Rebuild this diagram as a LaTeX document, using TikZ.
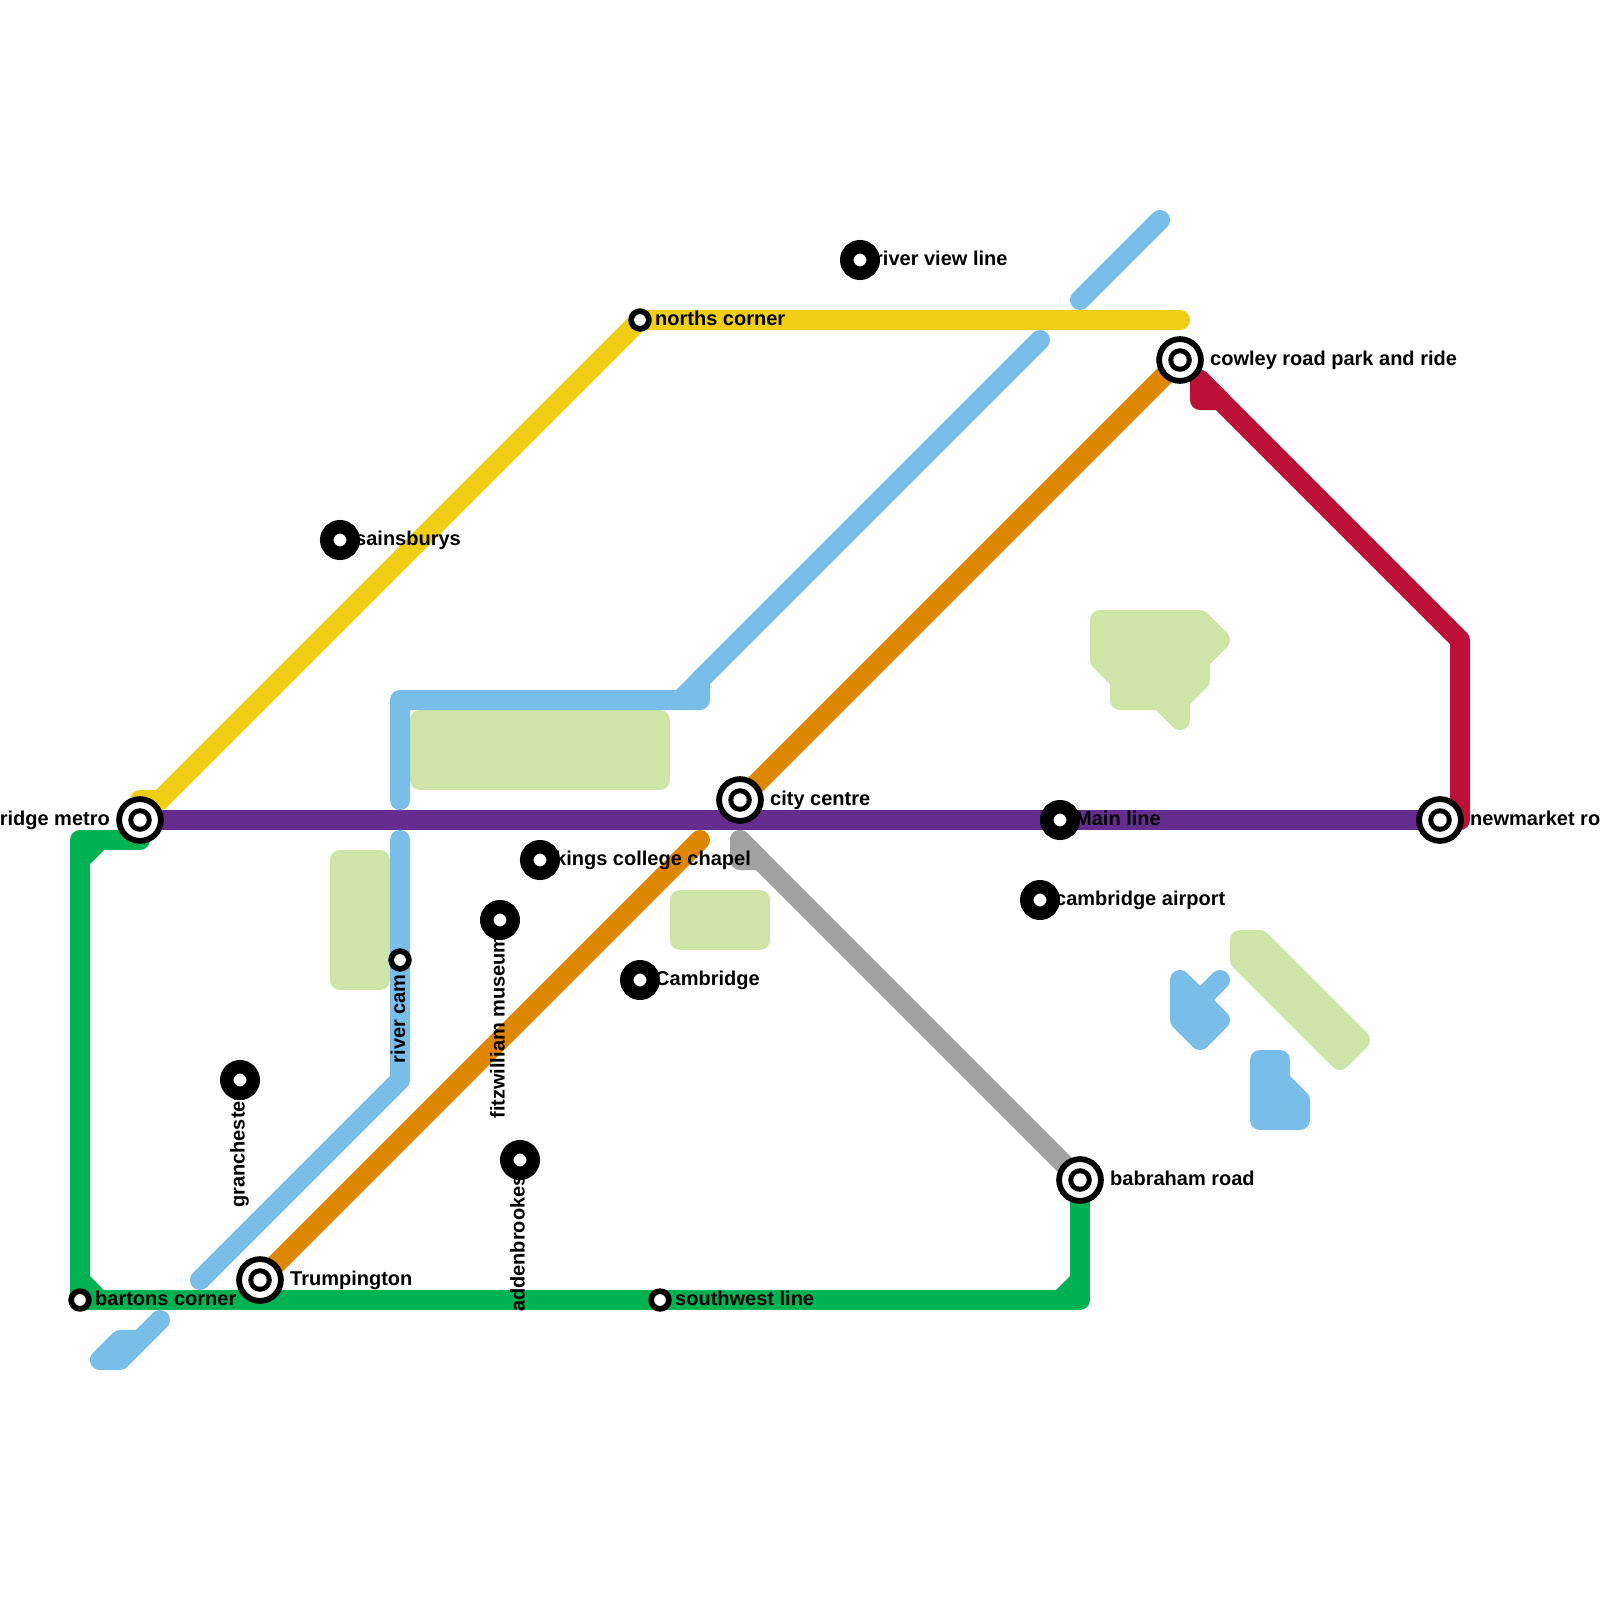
\documentclass[tikz,border=0pt]{standalone}
\usepackage{fontspec}
\setmainfont{Liberation Sans}
\usetikzlibrary{backgrounds}
\definecolor{lblue}{HTML}{79BDE9}
\definecolor{lgreen}{HTML}{00B251}
\definecolor{lyellow}{HTML}{F0CE15}
\definecolor{lpurple}{HTML}{662C90}
\definecolor{lorange}{HTML}{DF8600}
\definecolor{lred}{HTML}{BD1038}
\definecolor{lgrey}{HTML}{A2A2A2}
\definecolor{larea}{HTML}{CFE4A7}
\tikzset{
  metroline/.style={line width=20pt,line cap=round,line join=round},
  blob/.style={line width=20pt,line cap=round,line join=round,draw=#1,fill=#1},
  stabig/.style={circle,draw=black,fill=white,line width=5.8pt,minimum size=41.8pt,inner sep=0pt,
    path picture={\fill[black] (path picture bounding box.center) circle (11.8pt);
                  \fill[white] (path picture bounding box.center) circle (6.7pt);}},
  stadot/.style={circle,draw=black,fill=white,line width=13.5pt,minimum size=26.5pt,inner sep=0pt},
  stasmall/.style={circle,draw=black,fill=white,line width=5.7pt,minimum size=17.7pt,inner sep=0pt},
  lab/.style={inner sep=0pt,font=\bfseries\fontsize{20}{24}\selectfont,text=black},
  labr/.style={lab,anchor=base west},
  labl/.style={lab,anchor=base east},
  labv/.style={lab,anchor=base east,rotate=90},
  labw/.style={lab,anchor=base west,rotate=90},
}
\begin{document}
\begin{tikzpicture}[x=1pt,y=-1pt]
\useasboundingbox (0,0) rectangle (1600,1600);
% stations
\node[stabig] (ridge) at (140,820) {};
\node[stabig] (cowley) at (1180,360) {};
\node[stabig] (city) at (740,800) {};
\node[stabig] (newmarket) at (1440,820) {};
\node[stabig] (babraham) at (1080,1180) {};
\node[stabig] (trump) at (260,1280) {};
\node[stasmall] (norths) at (640,320) {};
\node[stasmall] (rivercam) at (400,960) {};
\node[stasmall] (bartons) at (80,1300) {};
\node[stasmall] (southwest) at (660,1300) {};
\node[stadot] (riverview) at (860,260) {};
\node[stadot] (sains) at (340,540) {};
\node[stadot] (mainline) at (1060,820) {};
\node[stadot] (kings) at (540,860) {};
\node[stadot] (fitz) at (500,920) {};
\node[stadot] (airport) at (1040,900) {};
\node[stadot] (cambridge) at (640,980) {};
\node[stadot] (grant) at (240,1080) {};
\node[stadot] (adden) at (520,1160) {};
% free ends
\coordinate (yA) at (160,800);
\coordinate (yB) at (140,800);
\coordinate (yC) at (1180,320);
\coordinate (gA) at (140,840);
\coordinate (gB) at (80,840);
\coordinate (gC) at (1080,1300);
\coordinate (bA) at (1160,220);
\coordinate (bB) at (1080,300);
\coordinate (bC) at (1040,340);
\coordinate (bD) at (700,680);
\coordinate (bE) at (700,700);
\coordinate (bF) at (400,700);
\coordinate (bG) at (400,800);
\coordinate (bH) at (400,840);
\coordinate (bI) at (400,1080);
\coordinate (bJ) at (200,1280);
\coordinate (oA) at (700,840);
\coordinate (rA) at (1200,380);
\coordinate (rB) at (1460,640);
\coordinate (rC) at (1460,820);
\coordinate (grA) at (740,840);
\begin{pgfonlayer}{background}
\fill[white] (0,0) rectangle (1600,1600);
% parks
\draw[blob=larea] (420,720) rectangle (660,780);
\draw[blob=larea] (340,860) rectangle (380,980);
\draw[blob=larea] (680,900) rectangle (760,940);
\draw[blob=larea] (1100,620) -- (1200,620) -- (1220,640) -- (1200,660) -- (1200,680) -- (1180,700) -- (1180,720) -- (1160,700) -- (1120,700) -- (1120,680) -- (1100,660) -- cycle;
\draw[blob=larea] (1240,940) -- (1260,940) -- (1360,1040) -- (1340,1060) -- (1240,960) -- cycle;
% water shapes
\draw[blob=lblue] (1180,980) -- (1200,1000) -- (1220,980) -- (1200,1000) -- (1220,1020) -- (1200,1040) -- (1180,1020) -- cycle;
\draw[blob=lblue] (1260,1060) -- (1280,1060) -- (1280,1080) -- (1300,1100) -- (1300,1120) -- (1260,1120) -- cycle;
\draw[blob=lblue] (160,1320) -- (120,1360) -- (100,1360) -- (120,1340) -- (140,1340) -- (120,1360);
% lines
\draw[metroline,lblue] (bA) -- (bB);
\draw[metroline,lblue] (bC) -- (bD) -- (bE) -- (bF) -- (bG);
\fill[lblue] (676,690) -- (696,670) -- (696,692) -- (676,692) -- cycle;
\draw[metroline,lblue] (bH) -- (rivercam.center) -- (bI) -- (bJ);
\draw[metroline,lgreen] (gA) -- (gB) -- (bartons.center) -- (southwest.center) -- (gC) -- (babraham.center);
\fill[lgreen] (90,850) -- (104,850) -- (90,864) -- cycle;
\fill[lgreen] (90,1290) -- (104,1290) -- (90,1276) -- cycle;
\fill[lgreen] (1070,1290) -- (1056,1290) -- (1070,1276) -- cycle;
\draw[metroline,lyellow] (yB) -- (yA) -- (norths.center) -- (yC);
\draw[metroline,lorange] (city.center) -- (cowley.center);
\draw[metroline,lorange] (oA) -- (trump.center);
\draw[metroline,lgrey] (grA) -- (babraham.center);
\draw[blob=lgrey] (grA) -- (740,860) -- (760,860) -- cycle;
\draw[metroline,lred] (rA) -- (rB) -- (rC);
\draw[blob=lred] (rA) -- (1200,400) -- (1220,400) -- cycle;
\draw[metroline,lpurple,line cap=butt] (ridge.center) -- (newmarket.center);
\end{pgfonlayer}
% labels
\node[labr] (t1) at (875,265) {river view line};
\node[labr] (t2) at (655,325) {norths corner};
\node[labr] (t3) at (1210,365) {cowley road park and ride};
\node[labr] (t4) at (355,545) {sainsburys};
\node[labr] (t5) at (770,805) {city centre};
\node[labl] (t6) at (110,825) {ridge metro};
\node[labr] (t7) at (1075,825) {Main line};
\node[labr] (t8) at (1470,825) {newmarket ro};
\node[labr] (t9) at (555,865) {kings college chapel};
\node[labr] (t10) at (1055,905) {cambridge airport};
\node[labr] (t11) at (655,985) {Cambridge};
\node[labr] (t12) at (1110,1185) {babraham road};
\node[labr] (t13) at (290,1285) {Trumpington};
\node[labr] (t14) at (95,1305) {bartons corner};
\node[labr] (t15) at (675,1305) {southwest line};
\node[labv] (t16) at (405,974) {river cam};
\node[labv] (t17) at (504.5,935) {fitzwilliam museum};
\node[labw] (t18) at (244.5,1208) {granchester};
\node[labv] (t19) at (524.5,1175) {addenbrookes};
\end{tikzpicture}
\end{document}
